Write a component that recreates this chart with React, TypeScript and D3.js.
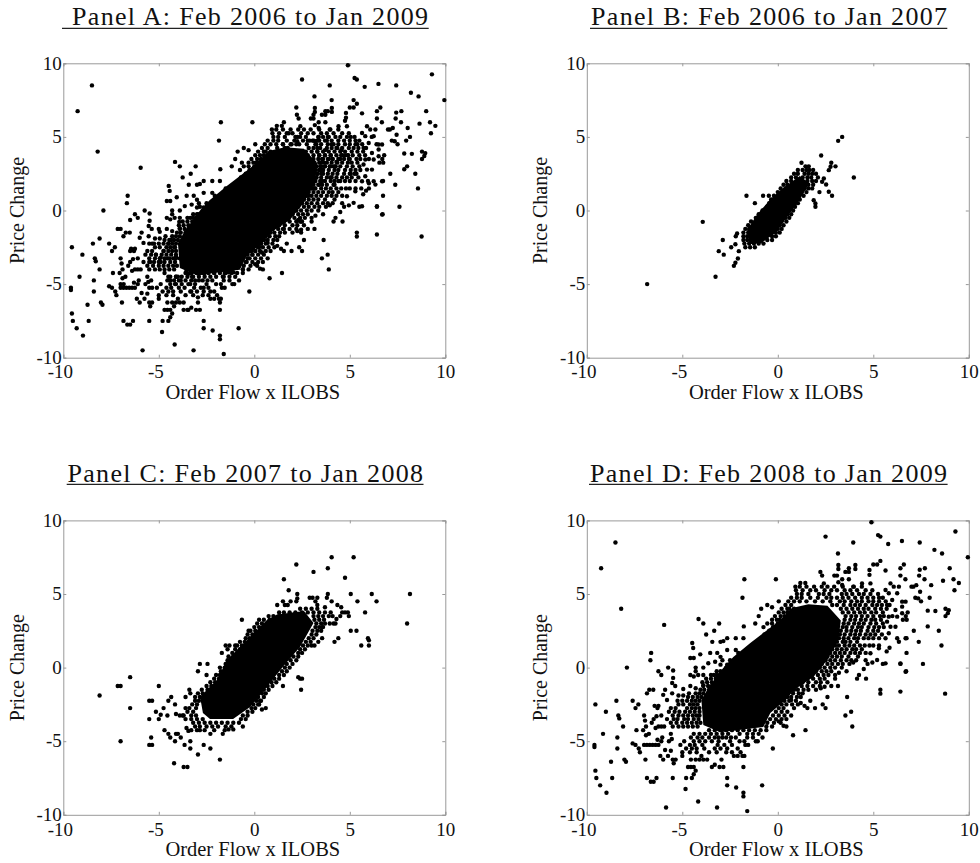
import React, { useEffect, useRef } from 'react';
import * as d3 from 'd3';

type Pt = [number, number];
type Row = [number, number[]];

const tickValues = [-10, -5, 0, 5, 10];
const titles = [
  'Panel A: Feb 2006 to Jan 2009',
  'Panel B: Feb 2006 to Jan 2007',
  'Panel C: Feb 2007 to Jan 2008',
  'Panel D: Feb 2008 to Jan 2009',
];

// Where the dots overlap into solid black they can't be told apart any more,
// so the middle of each cloud is kept as an outline of that black area.
const coreB: Pt[] = [[-1.6,-1.3],[-1.1,-0.3],[-0.4,0.75],[0.35,1.6],[1.15,2.35],[1.65,1.85],[1.15,0.75],[0.5,-0.4],[-0.1,-1.5],[-0.85,-2.2],[-1.5,-2.3]];
const coreC: Pt[] = [[-2.69,-3.08],[-2.84,-1.98],[-1.95,-0.84],[-1.43,0.52],[-0.38,1.87],[0.66,3.23],[1.19,3.6],[2.6,3.85],[3.1,3.03],[2.39,1.4],[1.5,0.05],[0.66,-1.3],[-0.22,-2.67],[-1.11,-3.5],[-2.32,-3.5]];
const coreD: Pt[] = [[-4,-2.2],[-3.64,-1.39],[-2.86,-0.03],[-2.33,0.72],[-1.44,1.67],[-0.55,2.55],[0.13,3.23],[0.75,4.05],[1.6,4.3],[2.6,4.2],[3.3,3.2],[3.17,1.88],[2.59,0.52],[1.86,-0.64],[0.84,-1.52],[0.39,-2.2],[-0.39,-3.08],[-0.76,-4.03],[-3.01,-4.4],[-3.9,-3.9]];

const pointsB: Pt[] = [
  [-6.84,-5],[-3.93,-0.77],[-3.26,-4.5],[-2.3,-3.76],[-2.22,-3.55],[-2.09,-3.26],[-3.09,-2.76],[-2.83,-3],[-2.88,-2],
  [-2.44,-2.5],[-2.22,-2.29],[-2.04,-2.76],[-2.2,-1.75],[-2.13,-1.56],[-1.64,1],[-0.77,1],[-0.47,1],[-1.2,0.5],
  [3.16,4.73],[3.37,5],[2.27,3.74],[3.98,2.24],[2.8,3.24],[3.02,3],[2.67,2.74],[2.76,2.97],[2.41,2.17],[2.32,1.95],
  [2.53,1.77],[2.67,1.27],[2.84,1],[2.18,1.25],[1.97,0.48],[1.97,0.25],[1.88,0.7],[1.24,3.24],[1.45,3],[1.62,3],
];
const bandB: Row[] = [
  [2.75,[1.05,1.3,1.5,1.65,1.85]],[2.5,[0.85,1.05,1.4,1.6,1.8,2]],[2.25,[0.7,0.95,1.3,1.55,1.75,2.1]],[2,[0.45,0.7,1.55,1.8,2]],
  [1.75,[0.3,0.5,1.6,1.85]],[1.5,[0.15,0.4,1.4,1.6,1.8]],[1.25,[0,0.2,1.25,1.5]],[1,[-0.2,0,1.1,1.35]],[0.75,[-0.35,-0.15,0.95,1.15]],
  [0.5,[-0.45,-0.3,0.85,1.05]],[0.25,[-0.55,-0.35,0.7,0.9]],[0,[-0.8,-0.55,0.6,0.8]],[-0.25,[-1,-0.8,0.5,0.7]],[-0.5,[-1.15,-0.95,0.4,0.6]],
  [-0.75,[-1.4,-1.15,0.2,0.45]],[-1,[-1.55,-1.3,0.1,0.3]],[-1.25,[-1.7,-1.5,0,0.2]],[-1.5,[-1.8,-1.55,-0.1,0.1]],[-1.75,[-1.8,-1.6,-0.3,-0.1]],
  [-2,[-1.8,-1.6,-0.55,-0.3]],[-2.25,[-1.75,-1.5,-1.25,-1,-0.75]],[-2.5,[-1.7,-1.45,-1.2]],
];

const pointsC: Pt[] = [
  [-8.1,-1.9],[-7.15,-1.25],[-7,-1.25],[-6.5,-0.65],[-6.5,-2.75],[-7,-5],[-5.5,-3.5],[-5.35,-2.25],[-5.5,-2.25],[-5.15,-3],
  [-5.4,-4.75],[-5.5,-5.25],[-5.35,-5.25],[-5,-1.25],[-4.9,-3.2],[-5,-3.5],[-4.75,-2.75],[-4.5,-2.25],[-4.35,-2],[-4.55,-3.25],
  [-4.7,-4.25],[-4.5,-4.5],[-4.4,-4.75],[-4.15,-2.5],[-4.1,-3.15],[-3.9,-3.25],[-3.75,-3.25],[-4.1,-4.5],[-4.0,-4.5],[-3.85,-4.75],
  [-4.15,-5],[-3.65,-5.25],[-3.35,-5],[-3.35,-5.5],[-2.95,-5.9],[-2.65,-5.25],[-2.3,-5.5],[-1.8,-6.25],[-4.2,-6.5],[-3.7,-6.75],
  [-3.5,-6.75],[-3.6,-2.75],[-3.6,-2],[-3.4,-1.5],[-3.35,-1.75],[-3.6,-3.5],[-3.55,-4.1],[-3.45,-4.3],[-3.3,-4.25],[-3,-4.25],
  [-2.85,-4.25],[-2.6,-4.25],[-2.1,-4.25],[-2.3,-4.5],[-1.65,-4.5],[-1.55,-4.25],[-1.35,-4.2],[-1.1,-4.2],[-0.6,-4],[0.25,-2.5],
  [0.4,-2.85],[0.6,-2.75],[0.35,-2.25],[-2.95,-0.25],[-2.85,0.25],[-2.45,0.25],[-2.5,-0.5],[-1.7,1],[-1.4,1.25],[-1.5,1.5],[-1.3,1.5],
  [-1,1.5],[-0.65,3.25],[-0.3,2.5],[0.1,2.35],[0.25,3.25],[1.2,4.25],[1.5,4.5],[1.6,4.25],[1.75,4.25],[1.9,4.5],[2.2,4.5],[2.25,5],
  [2.25,4.7],[1.55,6],[1.8,5.25],[2.2,7],[3.1,6.5],[3.85,6.75],[4.05,7.5],[5.2,7.5],[4.75,6.1],[3.85,5],[3.3,4.75],[2.9,4.75],
  [3.05,4.75],[3.2,4.5],[3.3,4.25],[3.8,4.75],[4.05,4.5],[3.7,4.1],[4.35,4.25],[4.55,4.1],[4.1,3.5],[4.3,3.3],[4.25,3],[4.15,3],[3.95,3],
  [4.2,1.75],[4.4,2],[4.5,3.5],[4.6,3.75],[4.75,3.75],[4.9,3.75],[4.95,3.5],[5.05,5],[5.4,4.5],[5.05,2.5],[5.35,2.5],[5.6,1.5],
  [5.8,3.75],[5.95,2],[6,1.85],[6,1.5],[6.15,5],[6.4,4.5],[8,3],[8.15,5],[2.4,-0.75],[2.5,-0.75],[2.45,-1.5],[1.5,-1.25],[2.3,-0.65],
  [3.55,2],[3.35,1.75],[3.15,1.5],[3,1.5],[3.55,2.75],
];
const bandC: Row[] = [
  [4,[2.4,2.7,3,3.3]],[3.75,[1.3,1.55,1.85,2.15,2.5,2.8,3.1,3.4,3.7,4]],[3.5,[0.75,1,1.3,3.1,3.35,3.6,3.9]],[3.25,[0.5,0.8,3.15,3.4,3.65]],
  [3,[0.15,0.4,3.25,3.5,3.7]],[2.75,[0,0.25,3.2,3.4,3.6]],[2.5,[-0.2,0.05,3.05,3.3,3.5]],[2.25,[-0.35,-0.1,3,3.25]],[2,[-0.45,-0.25,2.85,3.1]],
  [1.75,[-0.75,-0.5,2.7,2.95]],[1.5,[-0.9,-0.65,2.55,2.8]],[1.25,[-1,-0.75,2.4,2.65]],[1,[-1.15,-0.9,2.3,2.5]],[0.75,[-1.35,-1.1,2.05,2.3]],
  [0.5,[-1.4,-1.2,1.9,2.2]],[0.25,[-1.5,-1.3,1.7,2]],[0,[-1.8,-1.55,1.6,1.85]],[-0.25,[-1.75,-1.55,1.45,1.7]],[-0.5,[-2,-1.8,1.3,1.55]],
  [-0.75,[-2.1,-1.85,1.05,1.3]],[-1,[-2.3,-2.05,0.9,1.15]],[-1.25,[-2.5,-2.25,0.7,0.95]],[-1.5,[-2.75,-2.45,0.5,0.75]],[-1.75,[-2.95,-2.7,0.4,0.6]],
  [-2,[-3.1,-2.85,0.2,0.5]],[-2.25,[-3.1,-2.9,0.1,0.3]],[-2.5,[-3.25,-3,-0.05,0.2]],[-2.75,[-3.4,-3.05,-0.15,0.05]],[-3,[-3.5,-3.2,-0.35,-0.1]],
  [-3.25,[-3.7,-3.3,-3.05,-0.6,-0.35]],[-3.5,[-3.3,-3,-2.7,-0.7,-0.45]],[-3.75,[-3.2,-2.9,-2.6,-2.3,-2,-1.7,-1.4,-1.1,-0.8]],[-4,[-3.1,-2.85,-2.5,-2.2,-1.9,-1.5,-1.2]],
];

const farD: Pt[] = [
  [-9.25,6.75],[-8.5,8.5],[-8.2,4],[-7.9,0],[-5.95,2.9],[-6.63,1],[-6.67,0.5],[-6.25,-0.25],[-6.1,-0.5],[-5.74,0],[-5.48,-0.2],
  [-9.55,-2.5],[-9,-3],[-9.15,-4.5],[-9.6,-5.25],[-9.6,-5.4],[-9.55,-7],[-9.5,-7.5],[-9.3,-8],[-8.97,-8.5],[-8.73,-6.4],[-8.67,-7.5],
  [-8.03,-6.25],[-7.95,-6.4],[-8.45,-2.25],[-8.35,-3.25],[-8.3,-3.45],[-8.1,-4],[-8.4,-4.75],[-8.4,-5.5],[-7.6,-2.25],[-7.3,-2.5],
  [-7.45,-2.75],[-6.85,-1.75],[-6.52,-1.5],[-6.73,-1.5],[-5.85,-9.5],[-4.17,-9.1],[-3.18,-9.5],[-1.6,-9.75],[-1.8,-8.5],[-1.8,-8.75],
  [-2.18,-8.15],[-2.65,-7.5],[-2.65,-8],[-0.82,-8],[-4.83,-8.25],[4.9,9.87],[2.5,8.9],[3.95,8.5],[5.25,9],[5.37,8.9],[5.78,8.4],
  [6.5,8.6],[7.43,8.5],[8.2,8],[8.6,7.75],[9.3,9.25],[9.95,7.5],[3.15,7.75],[9,6.75],[9.2,6],[9.48,5.75],[9.25,5.25],[8.65,5.9],
  [8.03,5.6],[7.68,6],[7.7,6.75],[7.43,6.65],[7.4,6.25],[6.6,7],[6.42,6.75],[6.42,6.25],[6.68,6],[5.64,6.6],[5.37,7.25],[5.2,7],
  [5,7],[4.8,6.63],[4.8,6.3],[4.06,6.97],[8.78,4],[8.95,3.9],[8.9,3.7],[8.78,3.5],[8.25,3.85],[7.85,3.87],[7.95,4.75],[7.85,2.8],
  [8.43,2.5],[8.57,1.5],[7.6,0.25],[7.38,1.75],[7.12,2.5],[6.74,2],[6.74,1],[6.72,-0.25],[6.42,0.25],[6.42,-1.63],[8.76,-1.77],
  [5.37,-1.5],[5.37,-1.77],[4.62,-0.75],[4.15,-0.75],[4.25,-0.5],[3.9,-4],[3.84,-3],[3.54,-3.25],[3.63,-2],[1.45,-4.25],[0.8,-4.6],
  [-0.26,-5.5],[-1.75,6],[-0.1,6],[-1.85,4.75],[-0.55,4.25],[-0.3,4.1],[0.05,4.5],[-0.87,4],[-1,3.5],[-4.15,3.3],[-3.9,3],[-3.07,3],
  [-3.33,2.5],[-3.75,2.25],[-1.78,2.8],[-1.18,3],
];

const lowerD: Pt[] = [
  [-7.4,-4.25],[-7.05,-4.25],[-6.9,-4],[-6.95,-3.6],[-7,-3.25],[-6.75,-4.5],[-6.9,-4.6],[-7.6,-5.15],[-7.45,-5.25],[-7.28,-5.5],[-7.22,-5.75],
  [-6.93,-6.25],[-7,-5.25],[-6.85,-5.25],[-6.7,-5.25],[-6.55,-5.25],[-6.4,-5.25],[-6.25,-5.25],[-6.1,-5],[-6.3,-4.9],[-6.05,-4.75],[-6.6,-3.75],
  [-6.5,-3.5],[-6.35,-3.3],[-6.45,-2.6],[-6.3,-2.75],[-6.25,-2.6],[-6.4,-4.1],[-6.25,-4],[-6.1,-4],[-5.95,-4],[-5.9,-1.5],[-6,-1.85],[-5.53,-1.75],
  [-5.8,-2.2],[-5.2,-1.9],[-4.95,-1.9],[-5.48,-0.7],[-5.53,-1.05],[-5.37,-1.25],[-4.58,-0.5],[-4.17,-0.5],[-3.9,-0.5],[-4.58,-1.25],[-4.95,-1.45],
  [-4.3,-1.4],[-3.9,-1.2],[-5.6,-4.5],[-5.7,-5],[-5.55,-4.85],[-5.9,-5.6],[-5.6,-5.65],[-5.75,-6],[-5.5,-6.25],[-5.35,-6.25],[-5.45,-6.5],
  [-5.5,-7.5],[-6.85,-7.5],[-6.65,-7.75],[-6.5,-7.75],[-6.35,-7.5],[-6.15,-6],[-6,-6.25],[-5,-6],[-4.7,-6.75],[-4.55,-6.75],[-4.8,-7.5],[-4.5,-7.5],
  [-4.4,-7.25],[-4.4,-6.75],[-4.3,-7],[-4.55,-6.25],[-4.3,-6.25],[-4.1,-6.25],[-4,-6],[-3.9,-6.25],[-3.7,-6.25],[-3.45,-6.75],[-3.3,-6.6],[-3.05,-6.75],
  [-2.85,-6.75],[-2.95,-6.25],[-2.3,-6],[-2.1,-6],[-1.95,-5.75],[-1.85,-6],[-1.75,-6],[-1.8,-6.75],[-1.55,-5.25],[-1.05,-5],[-0.8,-4.75],
  [-4.4,-0.6],[-4.3,-0.25],[-4.3,0],[-3.9,0],[-4.58,0.65],[-4.4,0.65],[-4.06,0.9],[-4.48,1.67],[-4.43,1.33],[-3.64,0.3],[-3.28,0.4],[-3,0.2],[-2.65,0.2],
  [-3.54,1],[-3.17,1],[-3,0.73],[-2.9,0.5],[-2.65,1.2],[-2.5,0.5],[-2.2,1.2],[-2.07,1],[-3.43,1.75],[-3,1.75],[-2.85,1.8],[-2.65,2],[-2.2,2],[-1.8,2],
  [-3.5,-0.5],[-3.35,-0.5],[-3.2,-0.5],[-3.05,-0.5],[-2.85,-0.5],
  [0.05,-3.65],[0.45,-3.5],[0.7,-3.25],[0.85,-2.75],[0.7,-2.2],[0.85,-1.5],[1.2,-2.4],[1.4,-2.6],[1.55,-2.75],[1.95,-2.75],[1.7,-2.25],
  [2.25,-1.4],[2.45,-1.3],[2.6,-2],[2.35,-2.5],[2.5,-2.75],[0.45,-4],[0.3,-3.95],
];

const upperD: Pt[] = [
  [3.17,6.97],[3.17,6.7],[3.54,6.5],[3.72,6.75],[3.72,6.5],[4.06,6.7],[2.23,6.5],[2.32,6.25],[2.96,6.25],[3.1,6.25],[3.37,6],[3.72,6],
  [1.18,5.75],[1.44,5.75],[0.92,5.5],[2.41,5.72],[3.17,5.8],[3.37,5.61],[3.98,5.5],[4.41,5.72],[4.85,5.72],[5.9,5.72],[6.07,5.5],[6.34,5.5],[5.64,5.27],
  [5.81,5.05],[6.25,5.05],[5.99,4.59],[6.51,4.48],[6.69,4.48],[6.51,4.14],[5.72,4.25],[6.16,3.91],[5.81,3.46],[6.25,3.46],[6.51,3.69],[5.72,3.12],[5.9,2.78],
  [6.16,2.78],[5.81,2.33],[5.64,1.99],[6.25,1.99],[6.34,1.76],[6.69,1.99],[5.29,1.31],[4.85,0.97],[5.2,0.52],[5.64,0.29],[6.42,0.29],[6.69,-0.28],
  [7,5.5],[7.25,5.6],[7.1,5.5],[7.45,5.15],[7.2,4.75],[7.35,4.7],[7.5,4.5],[6.8,3.75],[6.7,3.5],[6.55,3.25],[6.75,3.25],[5.85,1.35],[5.7,1.1],[5.5,0.25],
  [4.95,0.35],[4.7,0.25],[4.5,-0.1],[3.95,0.35],[3.75,0.25],[3.6,-0.25],[3.2,-0.35],[3,-0.75],[2.8,-1.25],[3.15,-1.25],
];

const bandD: Row[] = [
  [5.5,[1.15,1.5,1.9,2.3,2.6,2.95,3.4,3.95,4.4]],[5.25,[0.95,1.3,1.7,2,2.45,2.8,3.1,3.5,3.8,4.15,4.6,4.95]],
  [5,[1,1.25,1.6,2.15,2.4,2.7,3.35,3.6,3.9,4.25,4.5,4.85,5.25]],[4.75,[0.7,1,1.25,1.7,2.1,2.55,2.8,3.1,3.4,3.7,4.05,4.4,4.7,5,5.3,5.5]],
  [4.5,[0.55,0.85,1.15,1.5,1.95,2.35,2.75,3.25,3.5,3.85,4.15,4.4,4.75,5,5.3,5.65]],[4.25,[0.4,0.7,2.85,3.1,3.45,3.8,4.05,4.3,4.6,4.95,5.2,5.45,5.85]],
  [4,[0.2,0.5,3.3,3.6,3.9,4.2,4.5,4.75,5.1,5.4,5.7]],[3.75,[0.05,0.3,3.4,3.7,4,4.3,4.55,4.9,5.15,5.5]],
  [3.5,[-0.15,0.15,3.55,3.85,4.1,4.4,4.7,5,5.35,5.55,6]],[3.25,[-0.3,-0.05,3.5,3.8,4.05,4.35,4.6,4.9,5.1,5.4]],
  [3,[-0.55,-0.3,3.45,3.7,4,4.25,4.5,4.85,5.15,5.5]],[2.75,[-0.75,3.4,3.6,3.9,4.2,4.4,4.75,5.05,5.3,5.55]],
  [2.5,[-0.45,-0.2,0,3.3,3.6,3.85,4.1,4.35,4.7,5,5.25]],[2.25,[-0.7,-0.45,-0.25,3.25,3.5,3.8,4.05,4.3,4.6,4.85,5.1,5.45]],
  [2,[-0.85,-0.65,-0.45,3.2,3.45,3.7,4,4.2,4.5,4.75,5,5.3]],[1.75,[-1.05,-0.85,-0.6,3.1,3.4,3.55,3.8,4.15]],
  [1.5,[-1.25,-1.05,-0.8,3,3.2,3.5,3.75,4,4.3,4.55,4.8,5,5.3]],[1.25,[-1.5,-1.25,-1,2.85,3.1,3.35,3.6,3.9,4.1,4.4]],
  [1,[-1.7,-1.45,-1.2,2.75,3,3.25,3.5,3.8,4.05,4.3,4.6]],[0.75,[-1.9,-1.65,-1.45,2.6,2.85,3.1,3.35,3.7,4.2]],
  [0.5,[-2.15,-1.9,-1.7,2.5,2.75,3,3.3,3.6,3.85,4.1,4.6]],[0.25,[-2.45,-2.25,-2,2.3,2.6,2.85,3.15,3.4]],
  [0,[-2.7,-2.45,-2.2,2.2,2.45,2.75,3,3.35]],[-0.25,[-3.2,-3,-2.8,-2.6,2,2.3,2.55,2.8]],[-0.5,[1.8,2.1,2.4,2.65,3]],
  [-0.75,[-3.75,-3.5,-3.25,-3.05,1.55,1.85,2.2,2.45]],[-1,[-3.95,-3.7,-3.45,-3.2,1.3,1.6,2,2.25,2.6]],
  [-1.25,[-3.9,-3.65,-3.45,0.95,1.25,1.55,1.85,2.2]],[-1.5,[-4.05,-3.85,-3.6,0.75,1.05,1.35,1.6,2]],
  [-1.75,[-4.65,-4.3,-4.1,-3.9,0.55,0.8,1.1,1.3]],[-2,[-4.7,-4.45,-4.2,-4,-3.75,0.5,0.7,1,1.2]],
  [-2.25,[-5.25,-5,-4.75,-4.5,-4.3,-4.1,0.35,0.6,0.95]],[-2.5,[-5.2,-4.95,-4.6,-4.4,-4.2,0.2,0.45,0.75,1.05]],
  [-2.75,[-5.6,-5.35,-4.75,-4.5,-4.3,-4.1,0.05,0.3]],[-3,[-5.7,-5.4,-5.15,-4.85,-4.6,-4.35,-4.1,-0.1,0.2,0.5]],
  [-3.25,[-6.1,-5.5,-5.2,-4.95,-4.7,-4.45,-4.25,-4.1,-0.25,0.05,0.35]],[-3.5,[-5.8,-5.45,-5.25,-4.9,-4.7,-4.4,-4.15,-0.4,-0.1,0.2]],
  [-3.75,[-5.6,-5.3,-5,-4.75,-4.5,-4.25,-4.05,-0.55,-0.2,0.15]],[-4,[-5.5,-5.2,-4.95,-4.7,-4.45,-4.2,-0.6,-0.3]],
  [-4.25,[-3.6,-3.3,-3,-2.7,-2.4,-2.1,-1.8,-1.5,-1.2,-0.9,-0.6]],[-4.5,[-4.4,-4.1,-3.8,-3.5,-3.2,-2.9,-2.6,-2,-1.6,-1.3,-1]],
  [-4.75,[-4.55,-4.2,-3.95,-3.6,-3.3,-3.1,-2.9,-2.7,-2.45,-2.2,-1.6,-1.3]],[-5,[-4.9,-4.4,-4.1,-3.8,-3.45,-3.1,-2.5,-2,-1.75,-1.15]],
  [-5.25,[-5.1,-4.6,-4.35,-3.95,-3.15,-2.8,-2.4,-1.7]],[-5.5,[-4.8,-4.5,-4.25,-3.85,-3.3,-3,-2.65,-2.1]],[-5.75,[-5,-4.6,-4.25,-3.6,-3.2,-2.7,-2.4]],
  [2.75,[-0.25,0,0.2]],[3,[0,0.2,0.4]],[3.25,[0.1,0.3,0.5]],[3.5,[0.35,0.55]],[3.75,[0.5,0.7]],[4,[0.6,0.85]],
];

const fromRows = (rows: Row[]): Pt[] => rows.flatMap(([y, xs]) => xs.map(x => [x, y] as Pt));

const allB: Pt[] = [...pointsB, ...fromRows(bandB)];
const allC: Pt[] = [...pointsC, ...fromRows(bandC)];
const allD: Pt[] = [...farD, ...lowerD, ...upperD, ...fromRows(bandD)];
// Panel A is the whole period, so it is made of the three sub-periods together
const allA: Pt[] = [...allB, ...allC, ...allD];

const W = 382;
const H = 294.4;
const panels = [
  { title: titles[0], left: 63.3, top: 63.3, pts: allA, cores: [coreB, coreC, coreD], tx: 72, tw: 356, ul: [62, 428.7], by: 25, uy: 28.3 },
  { title: titles[1], left: 586.8, top: 63.3, pts: allB, cores: [coreB], tx: 591, tw: 356, ul: [590, 947.3], by: 25, uy: 28.3 },
  { title: titles[2], left: 63.3, top: 520.4, pts: allC, cores: [coreC], tx: 67.5, tw: 355.5, ul: [66.7, 423.5], by: 482, uy: 484.3 },
  { title: titles[3], left: 586.8, top: 520.4, pts: allD, cores: [coreD], tx: 590, tw: 357, ul: [589, 947.6], by: 482, uy: 484.3 },
];

const serif = '"Liberation Serif", serif';

export default function App() {
  const ref = useRef<SVGSVGElement>(null);

  useEffect(() => {
    const svg = d3.select(ref.current);
    svg.selectAll('*').remove();

    const x = d3.scaleLinear().domain([-10, 10]).range([0, W]);
    const y = d3.scaleLinear().domain([-10, 10]).range([H, 0]);
    const outline = d3.line<Pt>().x(d => x(d[0])).y(d => y(d[1])).curve(d3.curveLinearClosed);

    for (const p of panels) {
      svg.append('text')
        .attr('x', p.tx).attr('y', p.by)
        .attr('textLength', p.tw).attr('lengthAdjust', 'spacing')
        .attr('font-family', serif).attr('font-size', 26).attr('fill', '#111')
        .text(p.title);
      svg.append('line')
        .attr('x1', p.ul[0]).attr('x2', p.ul[1]).attr('y1', p.uy).attr('y2', p.uy)
        .attr('stroke', '#222').attr('stroke-width', 1.2);

      const g = svg.append('g').attr('transform', `translate(${p.left},${p.top})`);

      const grey = (a: any) => {
        a.selectAll('path,line').attr('stroke', '#999').attr('stroke-width', 1);
      };
      g.append('g').call(d3.axisTop(x).tickValues(tickValues).tickSize(-3).tickFormat(() => '')).call(grey);
      g.append('g').attr('transform', `translate(${W},0)`)
        .call(d3.axisRight(y).tickValues(tickValues).tickSize(-3).tickFormat(() => '')).call(grey);

      const bottom = g.append('g').attr('transform', `translate(0,${H})`)
        .call(d3.axisBottom(x).tickValues(tickValues).tickSize(-3).tickFormat(d => String(d)));
      bottom.call(grey);
      bottom.selectAll('text')
        .attr('y', 20.8).attr('dy', 0)
        .attr('dx', (d: any) => (d < 0 ? -3.5 : 0))
        .attr('font-family', serif).attr('font-size', 19).attr('fill', '#111');

      const left = g.append('g')
        .call(d3.axisLeft(y).tickValues(tickValues).tickSize(-3).tickFormat(d => String(d)));
      left.call(grey);
      left.selectAll('text')
        .attr('x', -1.5).attr('dy', '0.3em')
        .attr('font-family', serif).attr('font-size', 19).attr('fill', '#111');

      g.append('text')
        .attr('x', W / 2 - 1.5).attr('y', H + 41.5).attr('text-anchor', 'middle')
        .attr('font-family', serif).attr('font-size', 20.5).attr('fill', '#111')
        .text('Order Flow x ILOBS');
      g.append('text')
        .attr('transform', `translate(-39.5,${H / 2}) rotate(-90)`).attr('text-anchor', 'middle')
        .attr('font-family', serif).attr('font-size', 20).attr('fill', '#111')
        .text('Price Change');

      g.selectAll('path.core').data(p.cores).enter().append('path')
        .attr('class', 'core').attr('d', d => outline(d)).attr('fill', '#000');
      g.selectAll('circle').data(p.pts).enter().append('circle')
        .attr('cx', d => x(d[0])).attr('cy', d => y(d[1])).attr('r', 2.2).attr('fill', '#000');
    }
  }, []);

  return <svg ref={ref} width={980} height={863} style={{ position: 'absolute', left: 0, top: 0 }} />;
}
